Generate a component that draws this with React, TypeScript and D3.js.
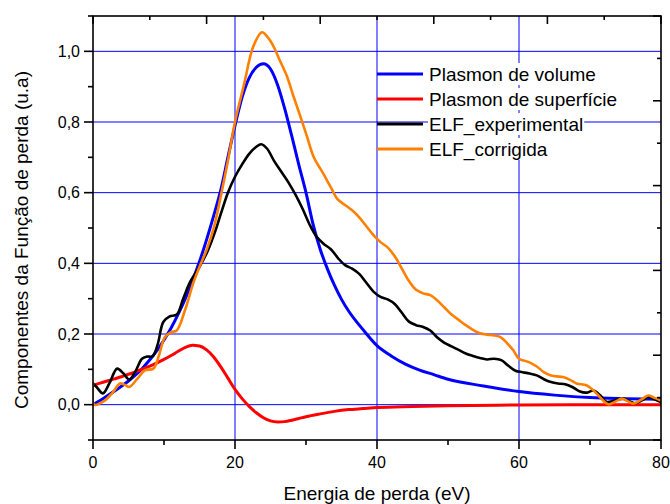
import React, { useLayoutEffect, useRef, useState } from "react";
import * as d3 from "d3";

// ---------- data ----------
const volE = [0,1,2,3,4,5,6,7,8,9,10,11,12,13,14,15,16,17,18,19,20,21,22,23,24,25,26,27,28,29,30,31,32,33,34,35,36,38,40,42,44,46,48,50,55,60,65,70,75,80];
const volV = [0,0.012,0.025,0.038,0.052,0.067,0.084,0.104,0.127,0.153,0.183,0.217,0.256,0.300,0.350,0.405,0.467,0.535,0.608,0.70,0.79,0.87,0.925,0.955,0.965,0.950,0.905,0.838,0.760,0.678,0.600,0.51,0.44,0.385,0.338,0.298,0.265,0.213,0.167,0.138,0.115,0.098,0.085,0.072,0.053,0.037,0.027,0.02,0.017,0.015];

const surE = [0,1,2,3,4,5,6,7,8,9,10,11,12,13,14,15,16,17,18,19,20,21,22,23,24,25,26,27,28,29,30,32,34,36,38,40,45,50,60,70,80];
const surV = [0.055,0.061,0.067,0.073,0.079,0.086,0.093,0.101,0.109,0.118,0.128,0.139,0.151,0.162,0.168,0.166,0.155,0.135,0.107,0.075,0.043,0.017,-0.005,-0.023,-0.037,-0.046,-0.049,-0.048,-0.044,-0.039,-0.034,-0.026,-0.019,-0.014,-0.011,-0.008,-0.005,-0.003,-0.001,0,0];

const expE = [0,0.5,1.4,2.3,3.4,4.3,5.1,6,6.9,7.6,8.4,9.1,9.9,10.8,11.8,12.7,13.7,15,16.2,17.2,18,19,20,21,22,23,23.7,24.5,25.5,26.5,27.5,28.5,29.5,30.5,31.5,32.5,33.5,34.5,35.5,36.5,37.5,38.5,39.5,40.5,41.5,42.5,43.5,44.5,45.5,46.5,47.5,48.5,49.5,50.5,51.5,52.5,53.5,54.5,55.5,56.5,57.5,58.5,59.5,60.5,61.5,62.5,63.5,64.5,65.5,66.5,67.5,68.5,69.5,70.5,71.5,72.3,73.5,74.7,75.5,76.3,77.3,78.2,79,80];
const expV = [0.06,0.05,0.032,0.06,0.102,0.088,0.071,0.095,0.13,0.136,0.137,0.17,0.234,0.25,0.255,0.3,0.348,0.39,0.437,0.49,0.54,0.6,0.645,0.68,0.71,0.73,0.737,0.725,0.69,0.66,0.63,0.595,0.555,0.51,0.475,0.455,0.44,0.415,0.395,0.385,0.37,0.345,0.32,0.305,0.298,0.285,0.26,0.235,0.225,0.22,0.21,0.19,0.175,0.165,0.155,0.145,0.138,0.132,0.128,0.13,0.126,0.11,0.096,0.092,0.088,0.083,0.072,0.064,0.06,0.058,0.05,0.038,0.034,0.04,0.025,0.008,0.012,0.017,0.01,0.004,0.012,0.022,0.016,0.007];

const corE = [0,0.15,1.7,2.8,3.8,4.5,5.1,6.2,7.3,8.5,9.3,10.1,11,11.8,13,14.1,15,16,17,18,19,20,21.2,22.6,23.8,24.6,25.4,26.3,27.3,28.2,29.2,30.2,31.1,32.4,33.5,34.5,35.5,36.5,37.5,38.5,39.5,40.5,41.5,42.5,43.5,44.5,45.5,46.5,47.5,48.5,49.5,50.5,51.5,52.5,53.5,54.5,55.5,56.5,57.5,58.5,59.2,60,61.3,62.5,63.5,64.4,65.3,66.2,67.2,68.1,69.5,70.5,71.6,72.6,73.5,74.5,75.3,76.1,77.2,78.2,79,79.9];
const corV = [0.06,0.0,0.012,0.035,0.06,0.056,0.05,0.072,0.097,0.102,0.14,0.19,0.205,0.21,0.27,0.343,0.39,0.438,0.5,0.59,0.69,0.8,0.9,1.015,1.054,1.04,1.015,0.975,0.93,0.875,0.816,0.755,0.70,0.655,0.615,0.58,0.565,0.55,0.53,0.505,0.48,0.46,0.445,0.42,0.385,0.35,0.325,0.315,0.31,0.295,0.275,0.255,0.24,0.225,0.212,0.202,0.198,0.196,0.19,0.17,0.154,0.13,0.121,0.108,0.092,0.083,0.08,0.078,0.07,0.06,0.055,0.04,0.017,0.001,0.008,0.017,0.01,0.003,0.014,0.026,0.02,0.012];

const seriesNames = ["Plasmon de volume", "Plasmon de superfície", "ELF_experimental", "ELF_corrigida"];
const seriesColors = ["#0000ff", "#ff0000", "#000000", "#ff8000"];

const xTickLabels = ["0", "20", "40", "60", "80"];
const yTickLabels = ["0,0", "0,2", "0,4", "0,6", "0,8", "1,0"];
const xTitle = "Energia de perda (eV)";
const yTitle = "Componentes da Função de perda (u.a)";

// ---------- layout ----------
const W = 670, H = 504;
const L = 93, R = 661, T = 16, B = 440;
const FONT = "'Liberation Sans', Arial, sans-serif";

function LegendText({ x, y, text }: { x: number; y: number; text: string }) {
  const ref = useRef<SVGTextElement>(null);
  const [w, setW] = useState(0);
  useLayoutEffect(() => {
    if (ref.current) setW(ref.current.getComputedTextLength());
  }, [text]);
  return (
    <g>
      <rect x={x - 1} y={y - 11} width={w + 2} height={22} fill="#fff" />
      <text ref={ref} x={x} y={y} dy="0.36em" fontSize={19} fontFamily={FONT} fill="#000">{text}</text>
    </g>
  );
}

export default function App() {
  const x = d3.scaleLinear().domain([0, 80]).range([L, R]);
  const y = d3.scaleLinear().domain([-0.1, 1.1]).range([B, T]);

  const mk = (E: number[], V: number[], curve: any) =>
    d3.line<number>().x((_, i) => x(E[i])).y((d) => y(d)).curve(curve)(V) || "";

  const paths = [
    mk(volE, volV, d3.curveMonotoneX),
    mk(surE, surV, d3.curveMonotoneX),
    mk(expE, expV, d3.curveCatmullRom.alpha(0.5)),
    mk(corE, corV, d3.curveCatmullRom.alpha(0.5)),
  ];

  const xMajor = [0, 20, 40, 60, 80];
  const xMinor = [10, 30, 50, 70];
  const yMajor = [0, 0.2, 0.4, 0.6, 0.8, 1.0];
  const yMinor = [-0.1, 0.1, 0.3, 0.5, 0.7, 0.9, 1.1];
  const topTicks = d3.range(0, 11).map((i) => i * 8);
  const rightTicks = d3.range(0, 11).map((i) => -0.1 + i * 0.12);

  const legendY = [74, 99, 124, 149];

  return (
    <svg width={W} height={H} style={{ position: "absolute", left: 0, top: 0, background: "#fff" }}>
      <rect x={0} y={0} width={W} height={H} fill="#fff" />
      <defs>
        <clipPath id="plot">
          <rect x={L} y={T} width={R - L} height={B - T} />
        </clipPath>
      </defs>
      {/* grid */}
      {yMajor.map((v) => (
        <line key={"gy" + v} x1={L} x2={R} y1={y(v)} y2={y(v)} stroke="#0000ff" strokeWidth={1} />
      ))}
      {[20, 40, 60].map((v) => (
        <line key={"gx" + v} x1={x(v)} x2={x(v)} y1={T} y2={B} stroke="#0000ff" strokeWidth={1} />
      ))}
      {/* curves */}
      <g clipPath="url(#plot)" fill="none" strokeLinejoin="round" strokeLinecap="round">
        <path d={paths[0]} stroke={seriesColors[0]} strokeWidth={3} />
        <path d={paths[1]} stroke={seriesColors[1]} strokeWidth={3} />
        <path d={paths[2]} stroke={seriesColors[2]} strokeWidth={2.6} />
        <path d={paths[3]} stroke={seriesColors[3]} strokeWidth={2.6} />
      </g>
      {/* legend */}
      {seriesNames.map((n, i) => (
        <g key={n}>
          <line x1={377} x2={423} y1={legendY[i]} y2={legendY[i]} stroke={seriesColors[i]} strokeWidth={3} />
          <LegendText x={429} y={legendY[i]} text={n} />
        </g>
      ))}
      {/* frame */}
      <rect x={L} y={T} width={R - L} height={B - T} fill="none" stroke="#000" strokeWidth={1.6} />
      {/* bottom axis ticks */}
      {xMajor.map((v) => (
        <line key={"bx" + v} x1={x(v)} x2={x(v)} y1={B} y2={B + 9} stroke="#000" strokeWidth={1.6} />
      ))}
      {xMinor.map((v) => (
        <line key={"bxm" + v} x1={x(v)} x2={x(v)} y1={B} y2={B + 5} stroke="#000" strokeWidth={1.6} />
      ))}
      {xMajor.map((v, i) => (
        <text key={"bl" + v} x={x(v)} y={468} textAnchor="middle" fontSize={16} fontFamily={FONT}>{xTickLabels[i]}</text>
      ))}
      {/* left axis ticks */}
      {yMajor.map((v) => (
        <line key={"ly" + v} x1={L - 9} x2={L} y1={y(v)} y2={y(v)} stroke="#000" strokeWidth={1.6} />
      ))}
      {yMinor.map((v) => (
        <line key={"lym" + v} x1={L - 5} x2={L} y1={y(v)} y2={y(v)} stroke="#000" strokeWidth={1.6} />
      ))}
      {yMajor.map((v, i) => (
        <text key={"ll" + v} x={80} y={y(v)} dy="0.36em" textAnchor="end" fontSize={16} fontFamily={FONT}>{yTickLabels[i]}</text>
      ))}
      {/* top axis ticks (inward) */}
      {topTicks.map((v, i) => (
        <line key={"tx" + i} x1={x(v)} x2={x(v)} y1={T} y2={T + (i % 2 === 0 ? 8 : 4)} stroke="#000" strokeWidth={1.6} />
      ))}
      {/* right axis ticks (inward) */}
      {rightTicks.map((v, i) => (
        <line key={"ry" + i} x1={R} x2={R - (i % 2 === 0 ? 8 : 4)} y1={y(v)} y2={y(v)} stroke="#000" strokeWidth={1.6} />
      ))}
      {/* titles */}
      <text x={(L + R) / 2} y={500} textAnchor="middle" fontSize={19} fontFamily={FONT}>{xTitle}</text>
      <text transform={`translate(28,240) rotate(-90)`} textAnchor="middle" fontSize={19} fontFamily={FONT}>{yTitle}</text>
    </svg>
  );
}
